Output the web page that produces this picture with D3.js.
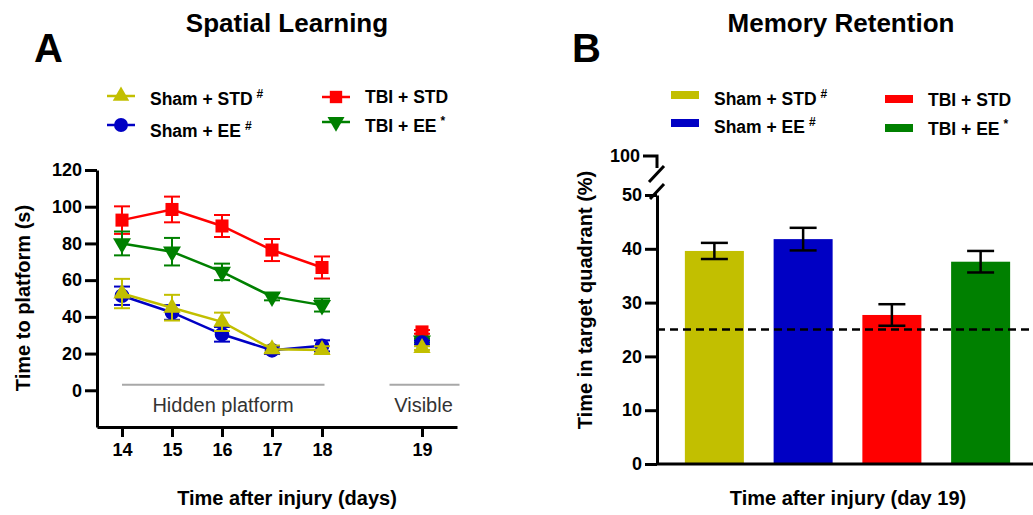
<!DOCTYPE html>
<html>
<head>
<meta charset="utf-8">
<script src="https://cdn.jsdelivr.net/npm/d3@7/dist/d3.min.js"></script>
<style>
  html, body { margin: 0; padding: 0; background: #fff; }
  svg { display: block; }
  text { font-family: "Liberation Sans", Arial, Helvetica, sans-serif; }
</style>
</head>
<body>
<svg id="chart" width="1033" height="515"></svg>
<script>
// ---------- Data ----------
const days = [14, 15, 16, 17, 18, 19];
const dayPos = [14, 15, 16, 17, 18, 20];          // axis slot for each day (gap before day 19)
const dayLabels = ["14", "15", "16", "17", "18", "19"];
const yTicksA = [0, 20, 40, 60, 80, 100, 120];

const groupNames = ["Sham + STD", "Sham + EE", "TBI + STD", "TBI + EE"];
const groupMarks = ["#", "#", "", "*"];
const groupColors = ["#c2bf00", "#0000c4", "#ff0000", "#008000"];

const shamStdMean = [52.7, 45.0, 37.3, 22.4, 22.0, 23.0];
const shamStdErr  = [8.0, 7.0, 5.0, 2.0, 2.0, 1.0];
const shamEeMean  = [51.5, 42.4, 30.5, 21.8, 24.2, 26.0];
const shamEeErr   = [5.0, 4.0, 4.0, 2.0, 3.0, 1.0];
const tbiStdMean  = [92.7, 98.5, 89.5, 76.4, 66.9, 31.8];
const tbiStdErr   = [7.5, 7.0, 6.0, 6.0, 6.0, 1.0];
const tbiEeMean   = [80.0, 75.5, 64.5, 51.0, 46.4, 27.0];
const tbiEeErr    = [6.5, 7.5, 4.5, 2.0, 3.5, 1.0];

const retentionMean = [39.6, 41.8, 27.7, 37.6];
const retentionErr  = [1.5, 2.1, 2.0, 2.0];
const chanceLevel = 25;
const yTicksB = [0, 10, 20, 30, 40, 50];
const breakTickB = 100;

const svg = d3.select("#chart");

// ---------- Panel A ----------
const xA = d3.scaleLinear().domain([13.5, 20.7]).range([97, 457]);
const yA = d3.scaleLinear().domain([-20, 120]).range([427, 170]);

const gA = svg.append("g");

const axisStyle = g => {
  g.selectAll("path, line").attr("stroke", "#000").attr("stroke-width", 3);
  g.selectAll("text").attr("fill", "#000").style("font-size", "18px").style("font-weight", "bold");
};

gA.append("g")
  .attr("transform", `translate(${xA(13.5)},0)`)
  .call(d3.axisLeft(yA).tickValues(yTicksA).tickSize(12).tickSizeOuter(0).tickPadding(3))
  .call(axisStyle);

gA.append("g")
  .attr("transform", `translate(0,${yA(-20)})`)
  .call(d3.axisBottom(xA).tickValues(dayPos).tickFormat((d, i) => dayLabels[i])
        .tickSize(10).tickSizeOuter(0).tickPadding(6))
  .call(axisStyle);

// phase annotations
gA.append("line").attr("x1", xA(14)).attr("x2", xA(18.05)).attr("y1", yA(3)).attr("y2", yA(3))
  .attr("stroke", "#a8a8a8").attr("stroke-width", 2);
gA.append("line").attr("x1", xA(19.35)).attr("x2", xA(20.75)).attr("y1", yA(3)).attr("y2", yA(3))
  .attr("stroke", "#a8a8a8").attr("stroke-width", 2);
gA.append("text").attr("x", xA(16.02)).attr("y", 412).attr("text-anchor", "middle")
  .style("font-size", "20px").attr("fill", "#333").text("Hidden platform");
gA.append("text").attr("x", xA(20.03)).attr("y", 412).attr("text-anchor", "middle")
  .style("font-size", "20px").attr("fill", "#333").text("Visible");

const seriesA = [
  { name: 0, mean: shamStdMean, err: shamStdErr, symbol: d3.symbolTriangle, size: 130, rot: 0 },
  { name: 2, mean: tbiStdMean, err: tbiStdErr, symbol: d3.symbolSquare, size: 170, rot: 0 },
  { name: 3, mean: tbiEeMean, err: tbiEeErr, symbol: d3.symbolTriangle, size: 140, rot: 180 },
  { name: 1, mean: shamEeMean, err: shamEeErr, symbol: d3.symbolCircle, size: 170, rot: 0 },
];
const drawOrder = [2, 3, 1, 0];
const line = d3.line().x(d => xA(d.x)).y(d => yA(d.y));

drawOrder.forEach(idx => {
  const s = seriesA.find(d => d.name === idx);
  const color = groupColors[idx];
  const pts = days.map((d, i) => ({ x: dayPos[i], y: s.mean[i], e: s.err[i] }));
  const g = gA.append("g");
  // connecting line (hidden platform days only)
  g.append("path").datum(pts.slice(0, 5)).attr("d", line)
    .attr("fill", "none").attr("stroke", color).attr("stroke-width", 2.5);
  // error bars
  const eb = g.selectAll(".eb").data(pts).enter().append("g");
  eb.append("line").attr("x1", d => xA(d.x)).attr("x2", d => xA(d.x))
    .attr("y1", d => yA(d.y - d.e)).attr("y2", d => yA(d.y + d.e))
    .attr("stroke", color).attr("stroke-width", 2);
  [1, -1].forEach(sg => {
    eb.append("line").attr("x1", d => xA(d.x) - 8).attr("x2", d => xA(d.x) + 8)
      .attr("y1", d => yA(d.y + sg * d.e)).attr("y2", d => yA(d.y + sg * d.e))
      .attr("stroke", color).attr("stroke-width", 2);
  });
  // markers
  g.selectAll(".mk").data(pts).enter().append("path")
    .attr("d", d3.symbol().type(s.symbol).size(s.size))
    .attr("transform", d => `translate(${xA(d.x)},${yA(d.y)}) rotate(${s.rot})`)
    .attr("fill", color);
});

// axis titles A
gA.append("text").attr("transform", `translate(30,298) rotate(-90)`).attr("text-anchor", "middle")
  .style("font-size", "20px").style("font-weight", "bold").text("Time to platform (s)");
gA.append("text").attr("x", 287).attr("y", 505).attr("text-anchor", "middle")
  .style("font-size", "20px").style("font-weight", "bold").text("Time after injury (days)");

// legend A
const legA = [
  { idx: 0, lx: 107, ly: 96, tx: 150, ty: 105 },
  { idx: 1, lx: 107, ly: 125, tx: 150, ty: 137 },
  { idx: 2, lx: 322, ly: 97, tx: 365, ty: 103 },
  { idx: 3, lx: 322, ly: 122, tx: 365, ty: 132 },
];
legA.forEach(l => {
  const s = seriesA.find(d => d.name === l.idx);
  const c = groupColors[l.idx];
  gA.append("line").attr("x1", l.lx).attr("x2", l.lx + 28).attr("y1", l.ly).attr("y2", l.ly)
    .attr("stroke", c).attr("stroke-width", 2.5);
  gA.append("path").attr("d", d3.symbol().type(s.symbol).size(s.size * 0.9))
    .attr("transform", `translate(${l.lx + 14},${l.ly}) rotate(${s.rot})`).attr("fill", c);
  const t = gA.append("text").attr("x", l.tx).attr("y", l.ty)
    .style("font-size", "17.5px").style("font-weight", "bold").text(groupNames[l.idx]);
  if (groupMarks[l.idx]) {
    t.append("tspan").attr("dx", 4).attr("dy", -7).style("font-size", "12px").text(groupMarks[l.idx]);
  }
});

// titles
svg.append("text").attr("x", 287).attr("y", 32).attr("text-anchor", "middle")
  .style("font-size", "26px").style("font-weight", "bold").text("Spatial Learning");
svg.append("text").attr("x", 34).attr("y", 62)
  .style("font-size", "40px").style("font-weight", "bold").text("A");

// ---------- Panel B ----------
const xB = d3.scaleBand().domain(groupNames).range([670, 1025]).paddingInner(0.335).paddingOuter(0.1675);
const yB = d3.scaleLinear().domain([0, 50]).range([464, 195]);
const gB = svg.append("g");

// bars
gB.selectAll(".bar").data(groupNames).enter().append("rect")
  .attr("x", d => xB(d)).attr("width", xB.bandwidth())
  .attr("y", (d, i) => yB(retentionMean[i])).attr("height", (d, i) => yB(0) - yB(retentionMean[i]))
  .attr("fill", (d, i) => groupColors[i]);

// chance line
gB.append("line").attr("x1", 657).attr("x2", 1033).attr("y1", yB(chanceLevel)).attr("y2", yB(chanceLevel))
  .attr("stroke", "#000").attr("stroke-width", 2.5).attr("stroke-dasharray", "8,5");

// error bars
groupNames.forEach((d, i) => {
  const cx = xB(d) + xB.bandwidth() / 2;
  const top = yB(retentionMean[i] + retentionErr[i]);
  const bot = yB(retentionMean[i] - retentionErr[i]);
  gB.append("line").attr("x1", cx).attr("x2", cx).attr("y1", top).attr("y2", bot)
    .attr("stroke", "#000").attr("stroke-width", 2.5);
  [top, bot].forEach(yy => gB.append("line").attr("x1", cx - 13.5).attr("x2", cx + 13.5)
    .attr("y1", yy).attr("y2", yy).attr("stroke", "#000").attr("stroke-width", 2.5));
});

// y axis B
gB.append("g").attr("transform", "translate(657,0)")
  .call(d3.axisLeft(yB).tickValues(yTicksB).tickSize(12).tickSizeOuter(0).tickPadding(3))
  .call(axisStyle);
// x axis line B
gB.append("line").attr("x1", 657).attr("x2", 1033).attr("y1", yB(0)).attr("y2", yB(0))
  .attr("stroke", "#000").attr("stroke-width", 3);

// axis break + 100 tick
const y100 = 156;
gB.append("path").attr("d", `M643,${y100} H657 V168`).attr("fill", "none")
  .attr("stroke", "#000").attr("stroke-width", 3);
gB.append("line").attr("x1", 664).attr("y1", 166).attr("x2", 649).attr("y2", 182)
  .attr("stroke", "#000").attr("stroke-width", 3);
gB.append("line").attr("x1", 664).attr("y1", 184).attr("x2", 650).attr("y2", 199)
  .attr("stroke", "#000").attr("stroke-width", 3);
gB.append("text").attr("x", 640).attr("y", y100).attr("dy", "0.32em").attr("text-anchor", "end")
  .style("font-size", "18px").style("font-weight", "bold").text(String(breakTickB));

// axis titles B
gB.append("text").attr("transform", `translate(592,300) rotate(-90)`).attr("text-anchor", "middle")
  .style("font-size", "20px").style("font-weight", "bold").text("Time in target quadrant (%)");
gB.append("text").attr("x", 848).attr("y", 505).attr("text-anchor", "middle")
  .style("font-size", "20px").style("font-weight", "bold").text("Time after injury (day 19)");

// legend B
const legB = [
  { idx: 0, rx: 671, ry: 91, tx: 714, ty: 105 },
  { idx: 1, rx: 671, ry: 119, tx: 714, ty: 133 },
  { idx: 2, rx: 885, ry: 95, tx: 928, ty: 106 },
  { idx: 3, rx: 885, ry: 124, tx: 928, ty: 135 },
];
legB.forEach(l => {
  gB.append("rect").attr("x", l.rx).attr("y", l.ry).attr("width", 28).attr("height", 8)
    .attr("fill", groupColors[l.idx]);
  const t = gB.append("text").attr("x", l.tx).attr("y", l.ty)
    .style("font-size", "17.5px").style("font-weight", "bold").text(groupNames[l.idx]);
  if (groupMarks[l.idx]) {
    t.append("tspan").attr("dx", 4).attr("dy", -7).style("font-size", "12px").text(groupMarks[l.idx]);
  }
});

svg.append("text").attr("x", 841).attr("y", 32).attr("text-anchor", "middle")
  .style("font-size", "26px").style("font-weight", "bold").text("Memory Retention");
svg.append("text").attr("x", 572).attr("y", 62)
  .style("font-size", "40px").style("font-weight", "bold").text("B");
</script>
</body>
</html>
